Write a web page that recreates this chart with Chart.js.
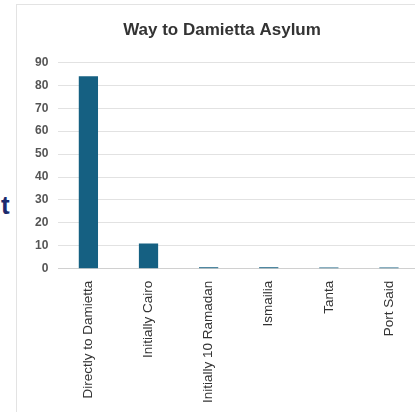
<!DOCTYPE html>
<html>
<head>
<meta charset="utf-8">
<script src="https://cdn.jsdelivr.net/npm/chart.js@4.4.1/dist/chart.umd.min.js"></script>
<style>
  html, body { margin: 0; padding: 0; background: #fff; overflow: hidden; }
  body { width: 415px; height: 412px; position: relative; }
  #card {
    position: absolute; left: 16px; top: 4px; width: 420px; height: 420px;
    border-left: 1px solid #e3e3e3; border-top: 1px solid #e3e3e3;
  }
  #wrap { position: absolute; left: 0; top: 0; width: 419px; height: 402px; }
  #cut {
    position: absolute; left: 1px; top: 190px;
    font: bold 26px "Liberation Sans", Arial, sans-serif; color: #1b2a6e;
  }
</style>
</head>
<body>
<span id="cut">t</span>
<div id="card">
  <div id="wrap"><canvas id="asylumChart"></canvas></div>
</div>
<script>
// values
const routes = ['Directly to Damietta', 'Initially Cairo', 'Initially 10 Ramadan', 'Ismailia', 'Tanta', 'Port Said'];
const counts = [84, 11, 0.6, 0.6, 0.5, 0.5];
const yTicks = [0, 10, 20, 30, 40, 50, 60, 70, 80, 90];

const ctx = document.getElementById('asylumChart');
new Chart(ctx, {
  type: 'bar',
  data: {
    labels: routes,
    datasets: [{
      label: 'Count',
      data: counts,
      backgroundColor: '#156082',
      borderWidth: 0,
      barPercentage: 0.32,
      categoryPercentage: 1
    }]
  },
  options: {
    responsive: true,
    maintainAspectRatio: false,
    animation: false,
    layout: { padding: { left: 8, right: 17, top: 0, bottom: 0 } },
    plugins: {
      legend: { display: false },
      tooltip: { enabled: false },
      title: {
        display: true,
        text: 'Way to Damietta Asylum',
        color: '#333',
        font: { family: 'Liberation Sans, Arial, sans-serif', size: 17, weight: 'bold' },
        padding: { top: 15, bottom: 22 }
      }
    },
    scales: {
      x: {
        grid: { display: false },
        border: { color: '#d0d0d0' },
        ticks: {
          color: '#333',
          minRotation: 90,
          maxRotation: 90,
          padding: 4,
          font: { family: 'Liberation Sans, Arial, sans-serif', size: 13.5 }
        }
      },
      y: {
        min: 0,
        max: 90,
        afterBuildTicks: axis => { axis.ticks = yTicks.map(v => ({ value: v })); },
        grid: { color: '#e2e2e2', drawTicks: false },
        border: { display: false },
        ticks: {
          color: '#555',
          padding: 10,
          font: { family: 'Liberation Sans, Arial, sans-serif', size: 12, weight: 'bold' }
        }
      }
    }
  }
});
</script>
</body>
</html>
